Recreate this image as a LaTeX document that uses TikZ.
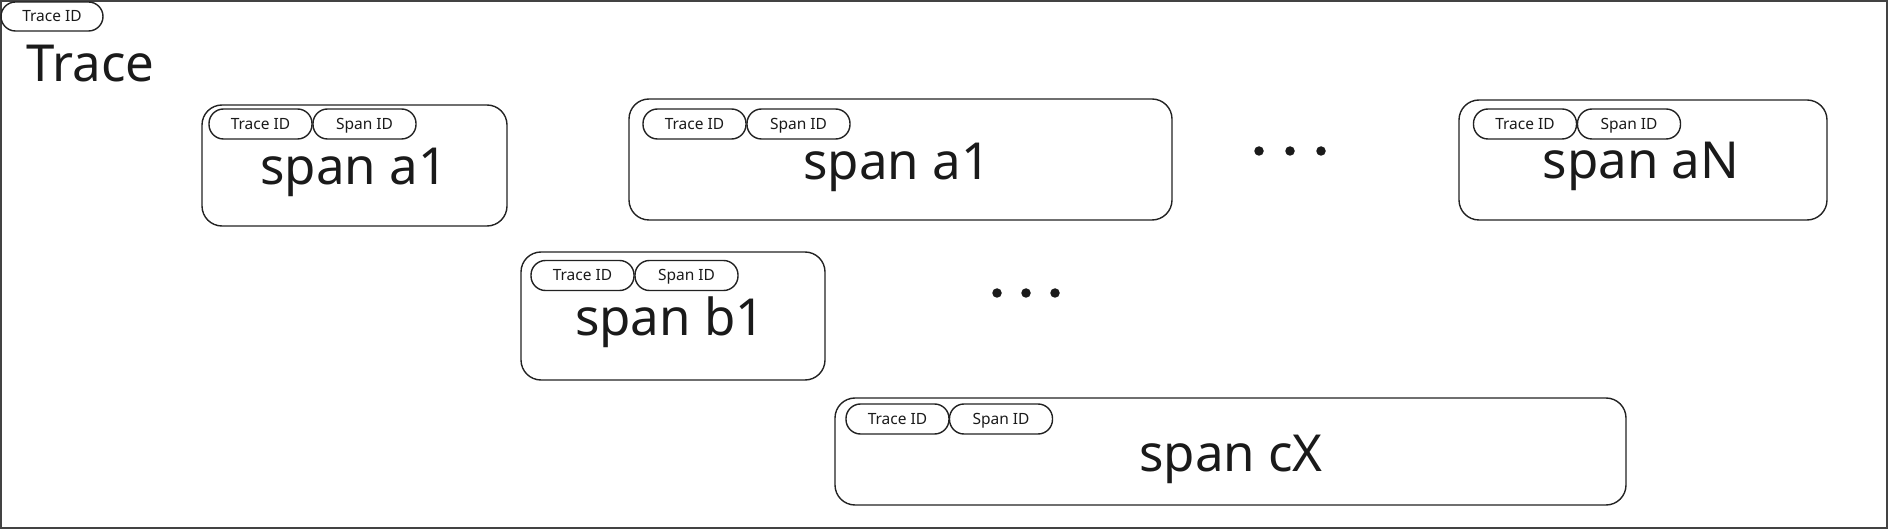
\documentclass[tikz,border=0pt]{standalone}
\usepackage{fontspec}
\setmainfont{Noto Sans}
\definecolor{ink}{HTML}{1A1A1A}
\definecolor{stroke}{HTML}{222222}
\begin{document}
\begin{tikzpicture}[x=1pt,y=-1pt,
  pill/.style={draw=stroke, line width=1.4pt, rounded corners=14.5pt, minimum width=103pt, minimum height=30pt,
    inner sep=0pt, text height=11pt, text depth=0pt, text=ink, font=\fontsize{15.5}{16}\selectfont},
  spanbox/.style={draw=stroke, line width=1.4pt, rounded corners=20pt, inner sep=0pt},
  bigtext/.style={anchor=base, inner sep=0pt, text=ink, font=\fontsize{51}{56}\selectfont},
  dot/.style={circle, fill=ink, inner sep=0pt, minimum size=9.5pt}]
\useasboundingbox (0,0) rectangle (1888,529);
\node[draw=stroke!85, line width=1.6pt, minimum width=1886pt, minimum height=527pt, inner sep=0pt] (frame) at (944,264.5) {};
\node[pill, minimum width=102pt, minimum height=29pt] (tid) at (52,16.5) {Trace ID};
\node[anchor=base west, inner sep=0pt, text=ink, font=\fontsize{51}{56}\selectfont] (trace) at (26.5,82) {Trace};

% span a1 (first)
\node[spanbox, minimum width=305pt, minimum height=121pt] (a1) at (354.5,165.5) {};
\node[pill] (a1t) at (260.5,124) {Trace ID};
\node[pill] (a1s) at (364.5,124) {Span ID};
\node[bigtext] (a1l) at (354,185) {span a1};

% span a1 (second)
\node[spanbox, minimum width=543pt, minimum height=121pt] (a2) at (900.5,159.5) {};
\node[pill] (a2t) at (694.5,124) {Trace ID};
\node[pill] (a2s) at (798.5,124) {Span ID};
\node[bigtext] (a2l) at (897,180) {span a1};

% span aN
\node[spanbox, minimum width=368pt, minimum height=120pt] (aN) at (1643,160) {};
\node[pill] (aNt) at (1525,124) {Trace ID};
\node[pill] (aNs) at (1629,124) {Span ID};
\node[bigtext] (aNl) at (1641,179) {span aN};

% span b1
\node[spanbox, minimum width=304pt, minimum height=128pt] (b1) at (673,316) {};
\node[pill] (b1t) at (582.5,275.5) {Trace ID};
\node[pill] (b1s) at (686.5,275.5) {Span ID};
\node[bigtext] (b1l) at (670,336) {span b1};

% span cX
\node[spanbox, minimum width=791pt, minimum height=107pt] (cX) at (1230.5,451.5) {};
\node[pill] (cXt) at (897.5,419) {Trace ID};
\node[pill] (cXs) at (1001,419) {Span ID};
\node[bigtext] (cXl) at (1231,471) {span cX};

% ellipses
\node[dot] (d1) at (1259,151) {};
\node[dot] (d2) at (1290,151) {};
\node[dot] (d3) at (1321,151) {};
\node[dot] (e1) at (997,293) {};
\node[dot] (e2) at (1026,293) {};
\node[dot] (e3) at (1055,293) {};
\end{tikzpicture}
\end{document}
